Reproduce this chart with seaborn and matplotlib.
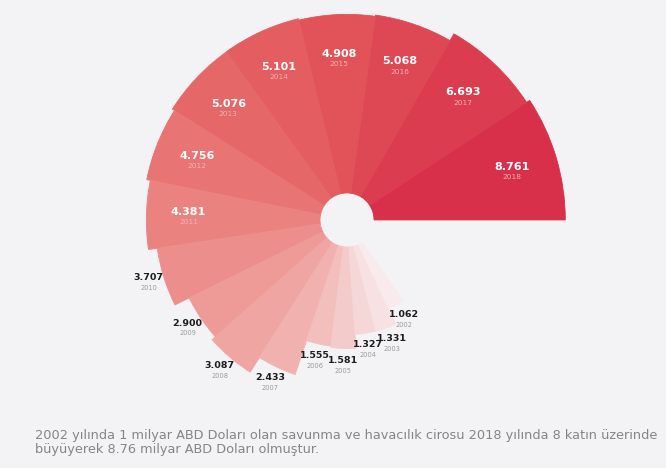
import numpy as np
import matplotlib
matplotlib.use("Agg")
import matplotlib.pyplot as plt
import seaborn as sns

# Defence & aerospace turnover, billion USD
years = ["2018", "2017", "2016", "2015", "2014", "2013", "2012", "2011", "2010",
         "2009", "2008", "2007", "2006", "2005", "2004", "2003", "2002"]
values = [8.761, 6.693, 5.068, 4.908, 5.101, 5.076, 4.756, 4.381, 3.707,
          2.900, 3.087, 2.433, 1.555, 1.581, 1.327, 1.331, 1.062]
value_labels = ["8.761", "6.693", "5.068", "4.908", "5.101", "5.076", "4.756", "4.381", "3.707",
                "2.900", "3.087", "2.433", "1.555", "1.581", "1.327", "1.331", "1.062"]
caption_lines = [
    "2002 yılında 1 milyar ABD Doları olan savunma ve havacılık cirosu 2018 yılında 8 katın üzerinde",
    "büyüyerek 8.76 milyar ABD Doları olmuştur.",
]

sns.set_theme(style="white")
plt.rcParams["font.family"] = ["DejaVu Sans"]

BG = "#f3f3f5"
HOLE = 27.0
R_MAX = 220.0


def outer_radius(v):
    # saturating radial scale: small years shrink, large years level off
    return R_MAX * (1.0 - np.exp(-np.asarray(v) / 1.8))


def sweep_deg(v):
    # angular width grows with the value
    return 6.5 + 3.05 * np.asarray(v)


vals = np.array(values)
widths = np.deg2rad(sweep_deg(vals))
starts = np.concatenate([[0.0], np.cumsum(widths)[:-1]])
centers = starts + widths / 2
radii = outer_radius(vals)

colors = sns.blend_palette(["#d8304a", "#e04f57", "#e66a6a", "#ec8f8c",
                            "#f0adaa", "#f5cfcf", "#f9ebed"], len(vals))

fig = plt.figure(figsize=(6.66, 4.68), dpi=100, facecolor=BG)
ax = fig.add_axes([0.1907, 0.060, 0.6607, 0.940], projection="polar")
ax.set_facecolor("none")
ax.set_theta_zero_location("E")
ax.set_theta_direction(1)
ax.set_ylim(0, R_MAX)

ax.bar(starts, radii - HOLE, width=widths, bottom=HOLE, align="edge",
       color=colors, edgecolor=colors, linewidth=0.6, antialiased=True)
ax.set_axis_off()

n_inside = 8
for i, (th, r, lab, yr) in enumerate(zip(centers, radii, value_labels, years)):
    if i < n_inside:
        rr = 0.79 * r
        c_val, c_yr = "white", "#f6b2b8"
        fs_val, fs_yr = 8, 5.3
    else:
        rr = r + 16
        c_val, c_yr = "#1d1d1d", "#9a9a9a"
        fs_val, fs_yr = 6.8, 4.8
    ax.annotate(lab, xy=(th, rr), xytext=(0, 3), textcoords="offset points",
                ha="center", va="center", fontsize=fs_val, fontweight="bold", color=c_val)
    ax.annotate(yr, xy=(th, rr), xytext=(0, -4.5), textcoords="offset points",
                ha="center", va="center", fontsize=fs_yr, color=c_yr)

fig.text(35 / 666, 1 - 435 / 468, caption_lines[0], fontsize=9.3, color="#858585",
         ha="left", va="center")
fig.text(35 / 666, 1 - 449 / 468, caption_lines[1], fontsize=9.3, color="#858585",
         ha="left", va="center")

fig.savefig("out.png", dpi=100, facecolor=BG)
